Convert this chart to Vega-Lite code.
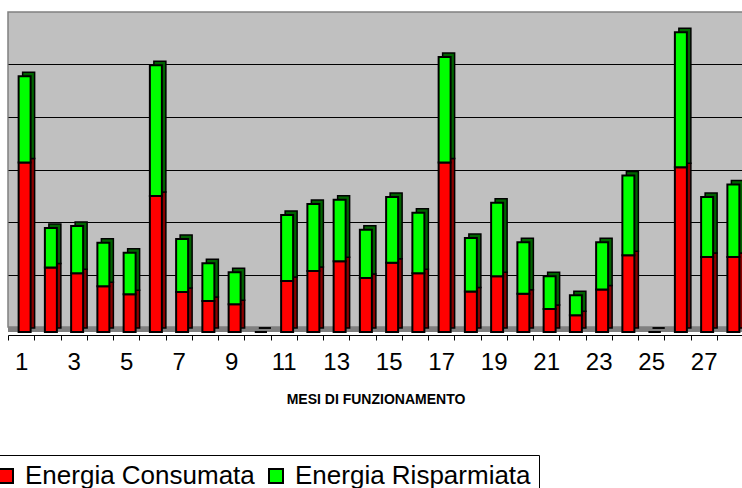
{
  "$schema": "https://vega.github.io/schema/vega-lite/v6.json",
  "width": 735,
  "height": 315,
  "autosize": {"type": "none"},
  "padding": {"left": 8, "top": 12, "right": 0, "bottom": 161},
  "background": "white",
  "view": {"fill": "#C0C0C0", "stroke": "#808080", "strokeWidth": 1.5},
  "config": {"font": "Liberation Sans"},
  "datasets": {
    "mesi": [
      {"mese": 1, "serie": "Energia Consumata", "valore": 3.23}, {"mese": 1, "serie": "Energia Risparmiata", "valore": 1.64},
      {"mese": 2, "serie": "Energia Consumata", "valore": 1.23}, {"mese": 2, "serie": "Energia Risparmiata", "valore": 0.75},
      {"mese": 3, "serie": "Energia Consumata", "valore": 1.12}, {"mese": 3, "serie": "Energia Risparmiata", "valore": 0.90},
      {"mese": 4, "serie": "Energia Consumata", "valore": 0.87}, {"mese": 4, "serie": "Energia Risparmiata", "valore": 0.83},
      {"mese": 5, "serie": "Energia Consumata", "valore": 0.72}, {"mese": 5, "serie": "Energia Risparmiata", "valore": 0.79},
      {"mese": 6, "serie": "Energia Consumata", "valore": 2.59}, {"mese": 6, "serie": "Energia Risparmiata", "valore": 2.49},
      {"mese": 7, "serie": "Energia Consumata", "valore": 0.76}, {"mese": 7, "serie": "Energia Risparmiata", "valore": 1.01},
      {"mese": 8, "serie": "Energia Consumata", "valore": 0.59}, {"mese": 8, "serie": "Energia Risparmiata", "valore": 0.72},
      {"mese": 9, "serie": "Energia Consumata", "valore": 0.53}, {"mese": 9, "serie": "Energia Risparmiata", "valore": 0.61},
      {"mese": 10, "serie": "Energia Consumata", "valore": 0}, {"mese": 10, "serie": "Energia Risparmiata", "valore": 0},
      {"mese": 11, "serie": "Energia Consumata", "valore": 0.97}, {"mese": 11, "serie": "Energia Risparmiata", "valore": 1.26},
      {"mese": 12, "serie": "Energia Consumata", "valore": 1.16}, {"mese": 12, "serie": "Energia Risparmiata", "valore": 1.28},
      {"mese": 13, "serie": "Energia Consumata", "valore": 1.35}, {"mese": 13, "serie": "Energia Risparmiata", "valore": 1.17},
      {"mese": 14, "serie": "Energia Consumata", "valore": 1.03}, {"mese": 14, "serie": "Energia Risparmiata", "valore": 0.92},
      {"mese": 15, "serie": "Energia Consumata", "valore": 1.32}, {"mese": 15, "serie": "Energia Risparmiata", "valore": 1.25},
      {"mese": 16, "serie": "Energia Consumata", "valore": 1.12}, {"mese": 16, "serie": "Energia Risparmiata", "valore": 1.15},
      {"mese": 17, "serie": "Energia Consumata", "valore": 3.23}, {"mese": 17, "serie": "Energia Risparmiata", "valore": 2.01},
      {"mese": 18, "serie": "Energia Consumata", "valore": 0.77}, {"mese": 18, "serie": "Energia Risparmiata", "valore": 1.02},
      {"mese": 19, "serie": "Energia Consumata", "valore": 1.06}, {"mese": 19, "serie": "Energia Risparmiata", "valore": 1.40},
      {"mese": 20, "serie": "Energia Consumata", "valore": 0.73}, {"mese": 20, "serie": "Energia Risparmiata", "valore": 0.98},
      {"mese": 21, "serie": "Energia Consumata", "valore": 0.44}, {"mese": 21, "serie": "Energia Risparmiata", "valore": 0.62},
      {"mese": 22, "serie": "Energia Consumata", "valore": 0.32}, {"mese": 22, "serie": "Energia Risparmiata", "valore": 0.38},
      {"mese": 23, "serie": "Energia Consumata", "valore": 0.81}, {"mese": 23, "serie": "Energia Risparmiata", "valore": 0.90},
      {"mese": 24, "serie": "Energia Consumata", "valore": 1.46}, {"mese": 24, "serie": "Energia Risparmiata", "valore": 1.52},
      {"mese": 25, "serie": "Energia Consumata", "valore": 0}, {"mese": 25, "serie": "Energia Risparmiata", "valore": 0},
      {"mese": 26, "serie": "Energia Consumata", "valore": 3.14}, {"mese": 26, "serie": "Energia Risparmiata", "valore": 2.57},
      {"mese": 27, "serie": "Energia Consumata", "valore": 1.43}, {"mese": 27, "serie": "Energia Risparmiata", "valore": 1.14},
      {"mese": 28, "serie": "Energia Consumata", "valore": 1.43}, {"mese": 28, "serie": "Energia Risparmiata", "valore": 1.38}
    ]
  },
  "data": {"name": "mesi"},
  "layer": [
    {
      "mark": {"type": "rule", "color": "#808080", "strokeWidth": 5, "yOffset": 2.5},
      "encoding": {"y": {"datum": 0, "type": "quantitative"}}
    },
    {
      "encoding": {
        "x": {
          "field": "mese",
          "type": "ordinal",
          "scale": {"paddingInner": 0, "paddingOuter": 0},
          "axis": {
            "labelAngle": 0,
            "labelExpr": "datum.value % 2 === 1 ? datum.label : ''",
            "labelFont": "Liberation Sans",
            "labelFontSize": 24,
            "labelColor": "black",
            "labelPadding": 10,
            "tickBand": "extent",
            "tickColor": "black",
            "tickSize": 5,
            "domainColor": "black",
            "domainWidth": 1,
            "offset": 8,
            "title": "MESI DI FUNZIONAMENTO",
            "titleFont": "Liberation Sans",
            "titleFontSize": 14,
            "titleFontWeight": "bold",
            "titleColor": "black",
            "titlePadding": 18
          }
        },
        "y": {
          "field": "valore",
          "type": "quantitative",
          "stack": "zero",
          "scale": {"domain": [0, 6], "nice": false},
          "axis": {
            "values": [1, 2, 3, 4, 5],
            "grid": true,
            "gridColor": "black",
            "gridWidth": 1.2,
            "labels": false,
            "ticks": false,
            "domain": false,
            "title": null
          }
        },
        "order": {"field": "serie", "type": "ordinal", "sort": "ascending"}
      },
      "layer": [
        {
          "mark": {"type": "bar", "width": 12, "xOffset": 7.5, "x2Offset": 7.5, "yOffset": 1, "y2Offset": 1, "stroke": "black", "strokeWidth": 1.5},
          "encoding": {
            "color": {
              "field": "serie",
              "type": "nominal",
              "scale": {"domain": ["Energia Consumata", "Energia Risparmiata"], "range": ["#8B0000", "#006400"]},
              "legend": null
            }
          }
        },
        {
          "mark": {"type": "bar", "width": 12, "xOffset": 3.5, "x2Offset": 3.5, "yOffset": 5, "y2Offset": 5, "stroke": "black", "strokeWidth": 2},
          "encoding": {
            "color": {
              "field": "serie",
              "type": "nominal",
              "scale": {"domain": ["Energia Consumata", "Energia Risparmiata"], "range": ["#FF0000", "#00FF00"]},
              "legend": {
                "orient": "none",
                "direction": "horizontal",
                "legendX": -23,
                "legendY": 443,
                "title": null,
                "padding": 8,
                "fillColor": "white",
                "strokeColor": "black",
                "symbolType": "square",
                "symbolSize": 196,
                "symbolStrokeColor": "black",
                "symbolStrokeWidth": 2,
                "symbolOpacity": 1,
                "labelFont": "Liberation Sans",
                "labelFontSize": 26,
                "labelColor": "black",
                "labelOffset": 6,
                "labelLimit": 400,
                "columnPadding": 8
              }
            }
          }
        }
      ],
      "resolve": {"scale": {"color": "independent"}, "legend": {"color": "independent"}}
    }
  ]
}
